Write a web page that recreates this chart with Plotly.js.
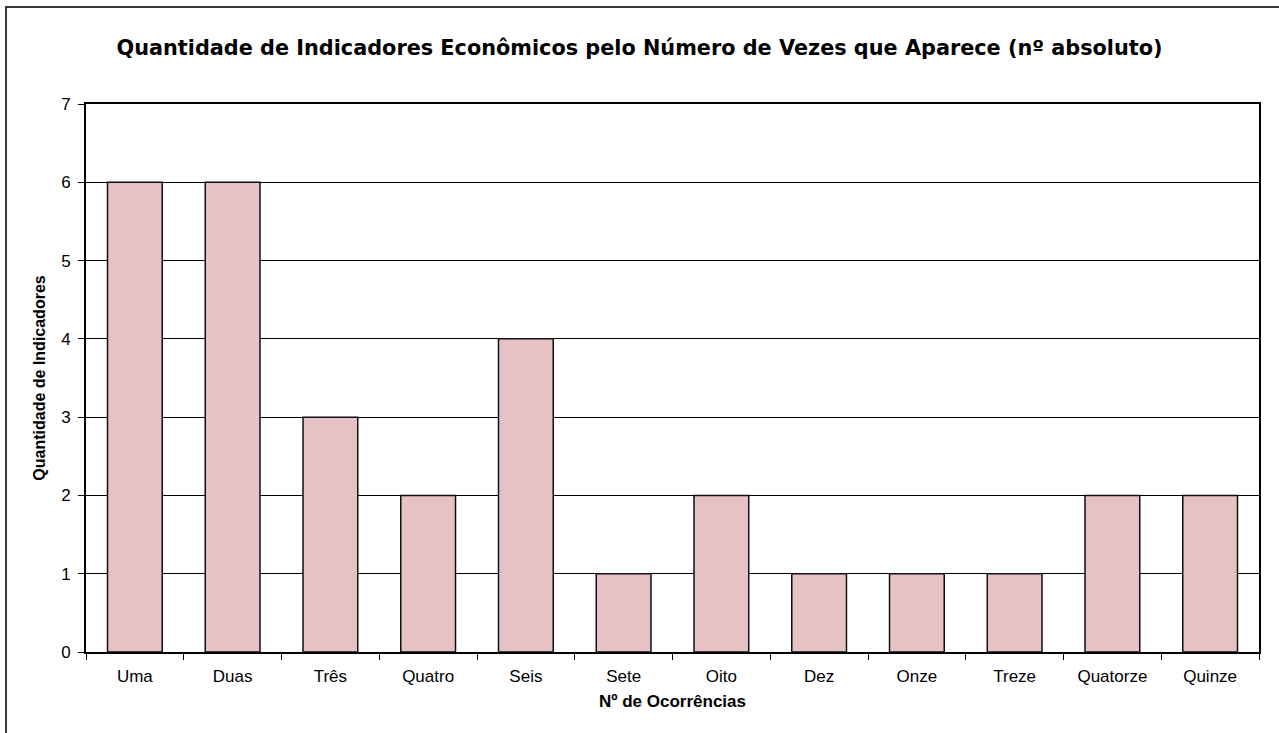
<!DOCTYPE html>
<html>
<head>
<meta charset="utf-8">
<script src="https://cdn.plot.ly/plotly-3.0.1.min.js"></script>
<style>
html,body{margin:0;padding:0;background:#fff;overflow:hidden;}
#frame{position:absolute;left:5px;top:6px;width:1400px;height:900px;border:2px solid #3a3a3a;box-sizing:border-box;}
#chart{position:absolute;left:0;top:0;width:1279px;height:733px;}
</style>
</head>
<body>
<div id="frame"></div>
<div id="chart"></div>
<script>
const categories = ["Uma","Duas","Três","Quatro","Seis","Sete","Oito","Dez","Onze","Treze","Quatorze","Quinze"];
const values = [6,6,3,2,4,1,2,1,1,1,2,2];
const yTicks = [0,1,2,3,4,5,6,7];

const font = "Liberation Sans, Arial, sans-serif";
Plotly.newPlot("chart", [{
  type: "bar",
  x: categories,
  y: values,
  marker: {color: "#e7c2c5", line: {color: "#111", width: 1.5}},
  hoverinfo: "x+y"
}], {
  width: 1279, height: 733,
  paper_bgcolor: "rgba(0,0,0,0)",
  plot_bgcolor: "#fff",
  margin: {l: 86, r: 20, t: 104, b: 81},
  bargap: 0.44,
  showlegend: false,
  font: {family: font, color: "#000", size: 17},
  title: {text: "<b>Quantidade de Indicadores Econômicos pelo Número de Vezes que Aparece (nº absoluto)</b>",
          font: {family: "DejaVu Sans, Liberation Sans, sans-serif", size: 20.8, color: "#000"}, x: 0.5, xanchor: "center", y: 0.935, yanchor: "middle"},
  xaxis: {
    type: "category",
    tickson: "boundaries",
    ticks: "outside", ticklen: 6, tickcolor: "#000", tickwidth: 1,
    showline: true, linecolor: "#000", linewidth: 2, mirror: true,
    showgrid: false,
    ticklabelstandoff: 8,
    tickfont: {family: font, size: 17},
    title: {text: "<b>Nº de Ocorrências</b>", font: {family: font, size: 17}, standoff: 10}
  },
  yaxis: {
    range: [0, 7],
    tickvals: yTicks,
    ticks: "outside", ticklen: 6, tickcolor: "#000", tickwidth: 1,
    showline: true, linecolor: "#000", linewidth: 2, mirror: true,
    showgrid: true, gridcolor: "#000", gridwidth: 1,
    zeroline: false,
    ticklabelstandoff: 4,
    tickfont: {family: font, size: 17},
    title: {text: "<b>Quantidade de Indicadores</b>", font: {family: font, size: 16}, standoff: 12}
  }
}, {displayModeBar: false});
</script>
</body>
</html>
